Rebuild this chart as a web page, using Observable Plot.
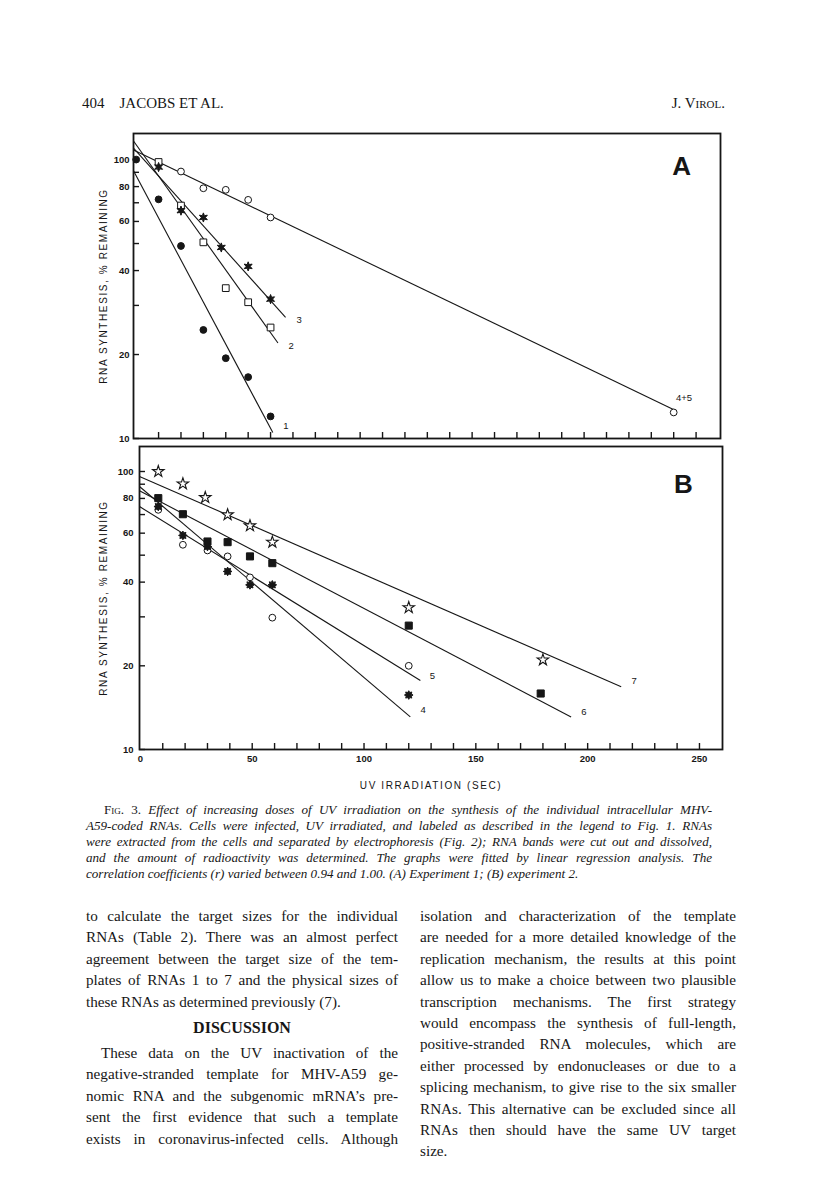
<!DOCTYPE html>
<html><head><meta charset="utf-8">
<script src="https://cdn.jsdelivr.net/npm/d3@7"></script>
<script src="https://cdn.jsdelivr.net/npm/@observablehq/plot@0.6"></script>
<style>
body{margin:0;background:#fff;}
#page{position:relative;width:816px;height:1188px;background:#fff;color:#161616;overflow:hidden}
.abs{position:absolute}
.hdr{font-family:"Liberation Serif",serif;font-size:15px;line-height:18px;white-space:nowrap}
.sc{font-variant:small-caps}
.cap{font-family:"Liberation Serif",serif;font-style:italic;font-size:13.1px;line-height:16px;width:626px}
.body{font-family:"Liberation Serif",serif;font-size:15.2px;line-height:21.4px}
.j{text-align:justify;text-align-last:justify}
.up{font-style:normal}
svg{position:absolute;left:0}
</style></head>
<body><div id="page">
<div class="abs hdr" style="left:82px;top:94px">404&nbsp;&nbsp;&nbsp;&nbsp;JACOBS ET AL.</div>
<div class="abs hdr" style="right:91px;top:94px">J. V<span class="sc">irol</span>.</div>
<div class="abs cap" id="cap" style="left:86px;top:802px"></div>
<div class="abs body" id="colL" style="left:86px;top:905px;width:312px"></div>
<div class="abs body" id="colR" style="left:420px;top:905px;width:316px"></div>
</div>
<script>
// ---------- data (sec of UV irradiation, % RNA synthesis remaining) ----------
const xTicks = d3.range(10, 251, 10);
const yTicks = d3.range(10, 101, 10);
const yTickLabels = [10, 20, 40, 60, 80, 100];
const xTickLabels = [0, 50, 100, 150, 200, 250];

// Panel A (experiment 1)
const A_rna1  = [[0,100],[10,72],[20,49],[30,24.5],[40,19.4],[50,16.6],[60,12.0]];
const A_rna2  = [[10,98],[20,68.4],[30,50.5],[40,34.6],[50,30.8],[60,25.0]];
const A_rna3  = [[10,94],[20,65.6],[30,62],[38,48.4],[50,41.4],[60,31.6]];
const A_rna45 = [[20,90.6],[30,78.9],[40,77.9],[50,71.7],[60,62],[240,12.4]];
// regression lines: [label, sec start, % start, sec end, % end]
const A_fits = [["1",-1.2,91.1,61,10.5],["2",-1.2,116.6,63.3,22.0],["3",-1.2,109.8,66.7,27.2],["4+5",-1.2,108.3,240.8,12.6]];
const A_labels = [["1",65.7,11.1],["2",68,21.5],["3",71.6,26.7],["4+5",241,14.0]];

// Panel B (experiment 2)
const B_rna4 = [[8,74.8],[19,58.9],[30,53.7],[39,43.7],[49,39.1],[59,39.1],[120,15.7]];
const B_rna5 = [[8,72.8],[19,54.5],[30,52],[39,49.5],[49,41.6],[59,29.8],[120,20.0]];
const B_rna6 = [[8,80.2],[19,70.2],[30,56],[39,55.7],[49,49.5],[59,46.8],[120,27.9],[179,15.9]];
const B_rna7 = [[8,100],[19,90.3],[29,80.6],[39,69.9],[49,63.8],[59,55.7],[120,32.4],[180,21.0]];
const B_fits = [["4",-0.4,88.3,120.7,13.1],["5",-0.4,74.8,125.2,17.7],["6",-0.4,85.2,192.6,13.1],["7",-0.4,96,215,16.8]];
const B_labels = [["4",125.2,13.9],["5",129.4,18.4],["6",197.1,13.7],["7",219.6,17.7]];

const yTitle = "RNA SYNTHESIS, % REMAINING";
const xTitle = "UV IRRADIATION (SEC)";

const captionLines = [
  '<span class="up"><span class="sc">Fig</span>. 3.</span> Effect of increasing doses of UV irradiation on the synthesis of the individual intracellular MHV-',
  'A59-coded RNAs. Cells were infected, UV irradiated, and labeled as described in the legend to Fig. 1. RNAs',
  'were extracted from the cells and separated by electrophoresis (Fig. 2); RNA bands were cut out and dissolved,',
  'and the amount of radioactivity was determined. The graphs were fitted by linear regression analysis. The',
  'correlation coefficients (r) varied between 0.94 and 1.00. (A) Experiment 1; (B) experiment 2.'
];
const leftLines1 = [
  "to calculate the target sizes for the individual",
  "RNAs (Table 2). There was an almost perfect",
  "agreement between the target size of the tem-",
  "plates of RNAs 1 to 7 and the physical sizes of",
  "these RNAs as determined previously (7)."
];
const leftLines2 = [
  "These data on the UV inactivation of the",
  "negative-stranded template for MHV-A59 ge-",
  "nomic RNA and the subgenomic mRNA\u2019s pre-",
  "sent the first evidence that such a template",
  "exists in coronavirus-infected cells. Although"
];
const rightLines = [
  "isolation and characterization of the template",
  "are needed for a more detailed knowledge of the",
  "replication mechanism, the results at this point",
  "allow us to make a choice between two plausible",
  "transcription mechanisms. The first strategy",
  "would encompass the synthesis of full-length,",
  "positive-stranded RNA molecules, which are",
  "either processed by endonucleases or due to a",
  "splicing mechanism, to give rise to the six smaller",
  "RNAs. This alternative can be excluded since all",
  "RNAs then should have the same UV target",
  "size."
];

// ---------- symbols ----------
function starSym(n, inner, k) {
  return {draw(ctx, size) {
    const R = Math.sqrt(size / Math.PI) * k, r = R * inner;
    for (let i = 0; i < 2 * n; i++) {
      const a = Math.PI * i / n - Math.PI / 2, rad = i % 2 ? r : R;
      const x = rad * Math.cos(a), y = rad * Math.sin(a);
      i ? ctx.lineTo(x, y) : ctx.moveTo(x, y);
    }
    ctx.closePath();
  }};
}
const star6 = starSym(6, 0.45, 1.35);
const burst8 = starSym(8, 0.62, 1.2);

const INK = "#161616";
const font = "Liberation Sans, Arial, sans-serif";

function panel(o) {
  const {xDomain, yDomain, top, height, mL, mR, mT, mB, series, fits, labels, letter, showX, yPad} = o;
  const frameH = height - mT - mB, frameW = 816 - mL - mR;
  const pxDec = frameH / (Math.log10(yDomain[1]) - Math.log10(yDomain[0]));
  const pxSec = frameW / (xDomain[1] - xDomain[0]);
  const tl = 6;
  const marks = [
    Plot.ruleX(xTicks, {x: d => d, y1: yDomain[0], y2: yDomain[0] * 10 ** (tl / pxDec), stroke: INK, strokeWidth: 1.4}),
    Plot.ruleY(yTicks, {y: d => d, x1: xDomain[0], x2: xDomain[0] + tl / pxSec, stroke: INK, strokeWidth: 1.4}),
    Plot.link(fits, {x1: d => d[1], y1: d => d[2], x2: d => d[3], y2: d => d[4], stroke: INK, strokeWidth: 1.1}),
    ...series.map(s => Plot.dot(s.data, {x: d => d[0], y: d => d[1], symbol: s.symbol, r: s.r, fill: s.fill, stroke: INK, strokeWidth: s.sw ?? 1})),
    Plot.text(labels, {x: d => d[1], y: d => d[2], text: d => d[0], textAnchor: "start", fontSize: 9.5, fill: INK}),
    Plot.text([letter], {x: d => d[1], y: d => d[2], text: d => d[0], fontSize: 26, fontWeight: "bold", fill: INK}),
    Plot.axisY(yTickLabels, {tickSize: 0, tickPadding: yPad, fontSize: 9.5, fontWeight: "bold", tickFormat: d => String(d), fill: INK}),
    Plot.text([yTitle], {frameAnchor: "left", textAnchor: "middle", dx: -(mL - 103), rotate: -90, fontSize: 10, fill: INK}),
    Plot.frame({stroke: INK, strokeWidth: 1.8})
  ];
  if (showX) {
    marks.push(Plot.axisX(xTickLabels, {tickSize: 0, tickPadding: 6, fontSize: 9.5, fontWeight: "bold", tickFormat: d => String(d), fill: INK}));
    marks.push(Plot.text([xTitle], {frameAnchor: "bottom", dy: 39, fontSize: 10, fill: INK}));
  }
  const svg = Plot.plot({
    width: 816, height,
    marginLeft: mL, marginRight: mR, marginTop: mT, marginBottom: mB,
    x: {domain: xDomain, axis: showX ? undefined : null},
    y: {type: "log", domain: yDomain, axis: null},
    style: {fontFamily: font, fontSize: "10px", background: "transparent", color: INK, overflow: "visible"},
    marks
  });
  svg.style.top = top + "px";
  d3.select(svg).selectAll("text").filter(function () {
    return this.textContent === yTitle || this.textContent === xTitle;
  }).style("letter-spacing", "1.6px");
  document.getElementById("page").appendChild(svg);
}

panel({
  xDomain: [-1.2, 260.9], yDomain: [10, 124], top: 120, height: 330, mL: 133, mR: 96, mT: 13, mB: 12, yPad: 4,
  series: [
    {data: A_rna45, symbol: "circle", r: 3.4, fill: "white"},
    {data: A_rna2, symbol: "square", r: 3.8, fill: "white"},
    {data: A_rna3, symbol: star6, r: 3.4, fill: INK},
    {data: A_rna1, symbol: "circle", r: 3.4, fill: INK}
  ],
  fits: A_fits, labels: A_labels, letter: ["A", 243.5, 94.4], showX: false
});
panel({
  xDomain: [-0.4, 260.3], yDomain: [10, 123], top: 435, height: 365, mL: 139, mR: 94, mT: 11, mB: 51, yPad: 6,
  series: [
    {data: B_rna5, symbol: "circle", r: 3.4, fill: "white"},
    {data: B_rna7, symbol: "star", r: 3.6, fill: "white", sw: 1.1},
    {data: B_rna6, symbol: "square", r: 4.0, fill: INK},
    {data: B_rna4, symbol: burst8, r: 3.6, fill: INK}
  ],
  fits: B_fits, labels: B_labels, letter: ["B", 242.8, 89.8], showX: true
});

// ---------- text blocks ----------
const cap = document.getElementById("cap");
captionLines.forEach((t, i) => {
  const d = document.createElement("div");
  d.innerHTML = t;
  if (i < captionLines.length - 1) d.className = "j";
  if (i === 0) d.style.paddingLeft = "18px";
  cap.appendChild(d);
});
function addLines(el, lines, indentFirst, justifyLast) {
  lines.forEach((t, i) => {
    const d = document.createElement("div");
    d.textContent = t;
    if (i < lines.length - 1 || justifyLast) d.className = "j";
    if (i === 0 && indentFirst) d.style.paddingLeft = "15px";
    el.appendChild(d);
  });
}
const colL = document.getElementById("colL");
addLines(colL, leftLines1, false, false);
const h = document.createElement("div");
h.textContent = "DISCUSSION";
h.style.cssText = "text-align:center;font-weight:bold;font-size:16px;line-height:20px;margin:6px 0 4px 0";
colL.appendChild(h);
addLines(colL, leftLines2, true, true);
addLines(document.getElementById("colR"), rightLines, false, false);
</script>
</body></html>
